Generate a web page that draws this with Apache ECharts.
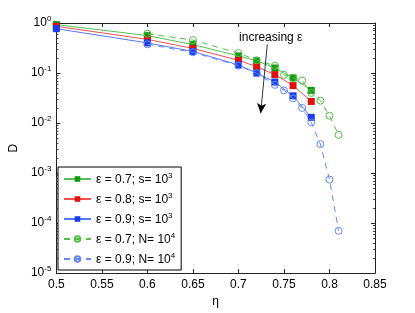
<!DOCTYPE html>
<html>
<head>
<meta charset="utf-8">
<script src="https://cdn.jsdelivr.net/npm/echarts@6/dist/echarts.min.js"></script>
<style>html,body{margin:0;padding:0;background:#fff}#c{width:415px;height:313px}</style>
</head>
<body>
<div id="c"></div>
<script>
// ---- data ----
var etaS = [0.5, 0.6, 0.65, 0.7, 0.72, 0.74, 0.76, 0.78];
var d07s = [0.93, 0.56, 0.37, 0.22, 0.175, 0.126, 0.08, 0.045];
var d08s = [0.86, 0.47, 0.31, 0.18, 0.134, 0.093, 0.056, 0.027];
var d09s = [0.77, 0.40, 0.27, 0.145, 0.10, 0.066, 0.035, 0.013];
var etaN07 = [0.6, 0.65, 0.7, 0.72, 0.74, 0.75, 0.76, 0.77, 0.78, 0.79, 0.8, 0.81];
var d07N = [0.61, 0.455, 0.25, 0.18, 0.14, 0.092, 0.08, 0.071, 0.04, 0.028, 0.014, 0.0058];
var etaN09 = [0.6, 0.65, 0.7, 0.72, 0.74, 0.75, 0.76, 0.77, 0.78, 0.79, 0.8, 0.81];
var d09N = [0.375, 0.26, 0.14, 0.099, 0.058, 0.045, 0.031, 0.020, 0.0103, 0.0038, 0.00074, 0.00007];
var xTicks = [0.5, 0.55, 0.6, 0.65, 0.7, 0.75, 0.8, 0.85];
var yTickExp = [0, -1, -2, -3, -4, -5];
var names = ['g7s', 'r8s', 'b9s', 'g7N', 'b9N'];
var legendText = {
  g7s: 'ε = 0.7; s= 10{s|3}',
  r8s: 'ε = 0.8; s= 10{s|3}',
  b9s: 'ε = 0.9; s= 10{s|3}',
  g7N: 'ε = 0.7; N= 10{s|4}',
  b9N: 'ε = 0.9; N= 10{s|4}'
};
var arrowFrom = [0.7317, 0.374];
var arrowTo = [0.7244, 0.0157];
var annotPos = [0.7355, 0.5];

function zip(xs, ys) { return xs.map(function (x, i) { return [x, ys[i]]; }); }

// minor tick positions (log10 of 2..9 within each decade), for a hidden linear axis in log space
var minorLog = [];
yTickExp.forEach(function (e) {
  if (e === 0) return;
  for (var k = 2; k <= 9; k++) minorLog.push(e + Math.log10(k));
});

var FONT = 'Liberation Sans, Arial, sans-serif';
var rich = { s: { fontSize: 8, fontFamily: FONT, color: '#000', padding: [0, 0, 8, 0] } };

var chart = echarts.init(document.getElementById('c'), null, { renderer: 'canvas' });
var axisCommon = {
  axisLine: { show: true, onZero: false, lineStyle: { color: '#222', width: 1 } },
  axisTick: { show: true, inside: true, length: 4, lineStyle: { color: '#222' } },
  splitLine: { show: false }
};
function minorAxis(pos) {
  return {
    type: 'value', min: -5, max: 0, position: pos, offset: 0,
    axisLine: { show: false },
    axisTick: { show: true, inside: true, length: 2, customValues: minorLog, lineStyle: { color: '#444' } },
    axisLabel: { show: false },
    splitLine: { show: false }
  };
}
chart.setOption({
  animation: false,
  backgroundColor: '#fff',
  grid: { left: 54, right: 40, top: 23, bottom: 36, containLabel: false },
  xAxis: [
    Object.assign({
      type: 'value', min: 0.5, max: 0.85, interval: 0.05,
      name: 'η', nameLocation: 'middle', nameGap: 20,
      nameTextStyle: { fontSize: 12, fontFamily: FONT, color: '#000' },
      axisLabel: { fontSize: 12, fontFamily: FONT, color: '#000', margin: 6,
        formatter: function (v) { var r = Math.round(v * 100) / 100; return xTicks.indexOf(r) >= 0 ? String(r) : ''; } }
    }, axisCommon),
    Object.assign({
      type: 'value', min: 0.5, max: 0.85, interval: 0.05, position: 'top',
      axisLabel: { show: false }
    }, axisCommon)
  ],
  yAxis: [
    Object.assign({
      type: 'log', logBase: 10, min: 1e-5, max: 1,
      name: 'D', nameLocation: 'middle', nameGap: 31,
      nameTextStyle: { fontSize: 12, fontFamily: FONT, color: '#000' },
      axisLabel: { fontSize: 12, fontFamily: FONT, color: '#000', margin: 5, rich: rich,
        formatter: function (v) { var e = Math.round(Math.log10(v)); return yTickExp.indexOf(e) >= 0 ? '10{s|' + e + '}' : ''; } }
    }, axisCommon),
    Object.assign({
      type: 'log', logBase: 10, min: 1e-5, max: 1, position: 'right',
      axisLabel: { show: false }
    }, axisCommon),
    minorAxis('left'),
    minorAxis('right')
  ],
  legend: {
    data: names,
    orient: 'vertical',
    left: 58, top: 167,
    width: 125,
    padding: [5, 6, 4, 5],
    itemGap: 6,
    itemWidth: 27, itemHeight: 7,
    borderColor: '#000', borderWidth: 1, backgroundColor: '#fff',
    borderRadius: 0,
    textStyle: { fontSize: 12, fontFamily: FONT, color: '#000', rich: rich, padding: [2, 0, 0, 0] },
    formatter: function (n) { return legendText[n]; }
  },
  series: [
    {
      name: 'g7s', type: 'line', data: zip(etaS, d07s), symbol: 'rect', symbolSize: 7,
      lineStyle: { color: '#55c055', width: 1 }, itemStyle: { color: '#119911' },
      markLine: {
        silent: true, symbol: ['none', 'arrow'], symbolSize: [7, 10],
        lineStyle: { color: '#000', width: 0.8, type: 'solid' }, label: { show: false },
        data: [[{ coord: arrowFrom }, { coord: arrowTo }]]
      },
      markPoint: {
        silent: true, symbol: 'circle', symbolSize: 0,
        label: { show: true, position: 'inside', formatter: 'increasing ε', fontSize: 12, fontFamily: FONT, color: '#000' },
        data: [{ coord: annotPos }]
      },
      z: 3
    },
    {
      name: 'r8s', type: 'line', data: zip(etaS, d08s), symbol: 'rect', symbolSize: 7,
      lineStyle: { color: '#f05050', width: 1 }, itemStyle: { color: '#e01010' }, z: 3
    },
    {
      name: 'b9s', type: 'line', data: zip(etaS, d09s), symbol: 'rect', symbolSize: 7,
      lineStyle: { color: '#5577ff', width: 1 }, itemStyle: { color: '#1a3cf0' }, z: 3
    },
    {
      name: 'g7N', type: 'line', data: zip(etaN07, d07N), symbol: 'circle', symbolSize: 7,
      lineStyle: { color: '#55c044', width: 1, type: [6, 5] },
      itemStyle: { color: 'rgba(255,255,255,0)', borderColor: '#55c044', borderWidth: 1 }, z: 4
    },
    {
      name: 'b9N', type: 'line', data: zip(etaN09, d09N), symbol: 'circle', symbolSize: 7,
      lineStyle: { color: '#6688ee', width: 1, type: [6, 5] },
      itemStyle: { color: 'rgba(255,255,255,0)', borderColor: '#6688ee', borderWidth: 1 }, z: 4
    }
  ]
});
</script>
</body>
</html>
